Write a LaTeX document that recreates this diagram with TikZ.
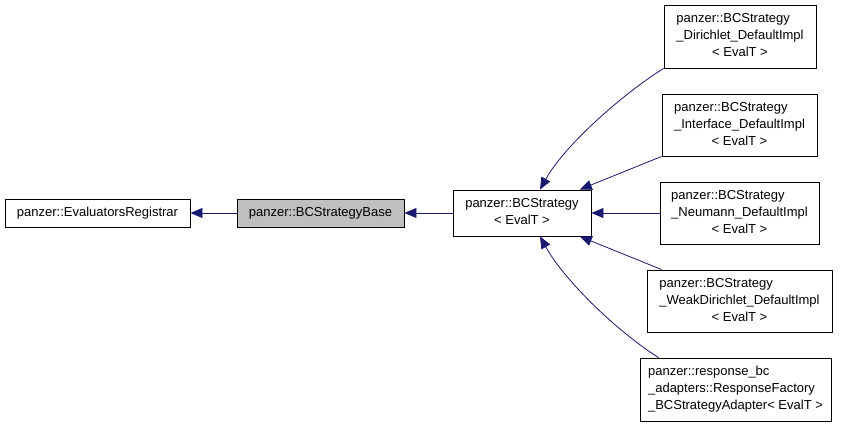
\documentclass[tikz,border=0pt]{standalone}
\usepackage{fontspec}
\setmainfont{Liberation Sans}
\usetikzlibrary{arrows.meta}
\definecolor{edgeblue}{HTML}{191970}
\definecolor{basegray}{HTML}{BFBFBF}

\begin{document}
\begin{tikzpicture}[x=1pt,y=-1pt]

      \useasboundingbox (0,0) rectangle (845,427);

      \begin{scope}[every node/.style={draw,line width=0.9pt,inner sep=0pt,
          font=\fontsize{13}{17}\selectfont}]
        \node[minimum width=185pt,minimum height=28pt] (1) at (97.5,213) {panzer::EvaluatorsRegistrar};
        \node[minimum width=167pt,minimum height=28pt,fill=basegray] (2) at (320.5,213) {panzer::BCStrategyBase};
        \node[minimum width=138pt,minimum height=46pt] (3) at (522,213)
          {\begin{tabular}{@{}c@{}}panzer::BCStrategy\\< EvalT >\end{tabular}};
        \node[minimum width=152pt,minimum height=63pt] (4) at (740,36.5)
          {\begin{tabular}{@{}l@{}}panzer::BCStrategy\\\_Dirichlet\_DefaultImpl\\\multicolumn{1}{@{}c@{}}{< EvalT >}\end{tabular}};
        \node[minimum width=155pt,minimum height=62pt] (5) at (739.5,125)
          {\begin{tabular}{@{}l@{}}panzer::BCStrategy\\\_Interface\_DefaultImpl\\\multicolumn{1}{@{}c@{}}{< EvalT >}\end{tabular}};
        \node[minimum width=159pt,minimum height=62pt] (6) at (739.5,213)
          {\begin{tabular}{@{}l@{}}panzer::BCStrategy\\\_Neumann\_DefaultImpl\\\multicolumn{1}{@{}c@{}}{< EvalT >}\end{tabular}};
        \node[minimum width=185pt,minimum height=62pt] (7) at (739.5,301)
          {\begin{tabular}{@{}l@{}}panzer::BCStrategy\\\_WeakDirichlet\_DefaultImpl\\\multicolumn{1}{@{}c@{}}{< EvalT >}\end{tabular}};
        \node[minimum width=191pt,minimum height=63pt] (8) at (735.5,389.5)
          {\begin{tabular}{@{}l@{}}panzer::response\_bc\\\_adapters::ResponseFactory\\\multicolumn{1}{@{}c@{}}{\_BCStrategyAdapter< EvalT >}\end{tabular}};
      \end{scope}

      \begin{scope}[every edge/.style={draw=edgeblue,line width=0.8pt,
          -{Triangle[length=12pt,width=10pt]}}]
        \path (2) edge (1);
        \path (3) edge (2);
        \path (5.south west) edge (3);
        \path (6) edge (3);
        \path ([xshift=15pt]7.north west) edge (3);
        \path (4.south west) edge[to path={.. controls +(-40,25) and +(25,-45) .. (\tikztotarget)}] ([xshift=18pt]3.north);
        \path ([xshift=19pt]8.north west) edge[to path={.. controls +(-40,-25) and +(25,45) .. (\tikztotarget)}] ([xshift=18pt]3.south);
      \end{scope}

    \end{tikzpicture}
\end{document}
